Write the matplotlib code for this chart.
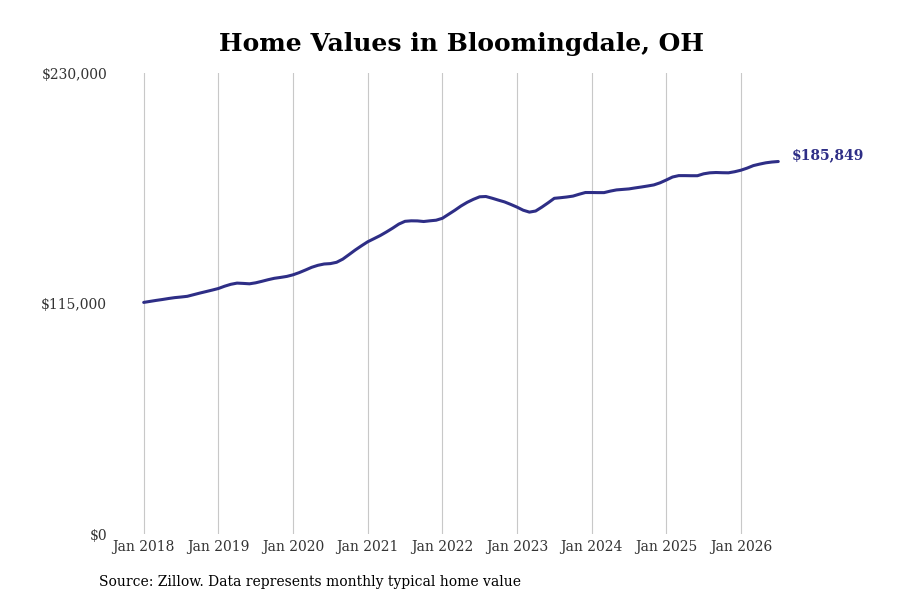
import matplotlib
matplotlib.use("Agg")
import matplotlib.pyplot as plt
import numpy as np

# monthly typical home value, Jan 2018 .. Jul 2026
values = [
    115550, 116050, 116550, 117000, 117500, 117940, 118240, 118590, 119390, 120190, 120940, 121690,
    122490, 123630, 124580, 125180, 125030, 124830, 125330, 126080, 126880, 127580, 128020, 128520,
    129320, 130420, 131710, 133060, 134060, 134710, 134910, 135560, 137150, 139400, 141690, 143790,
    145790, 147330, 148880, 150670, 152570, 154620, 156010, 156260, 156210, 155910, 156260, 156560,
    157510, 159500, 161500, 163650, 165490, 166990, 168240, 168390, 167540, 166590, 165690, 164440,
    163100, 161550, 160600, 161150, 163100, 165240, 167490, 167790, 168140, 168590, 169530, 170380,
    170380, 170330, 170330, 171080, 171680, 171930, 172180, 172680, 173130, 173630, 174170, 175220,
    176620, 178110, 178810, 178810, 178760, 178760, 179710, 180210, 180360, 180260, 180210, 180760,
    181510, 182560, 183810, 184550, 185200, 185600, 185849,
]
years = list(range(2018, 2027))
year_labels = [f"Jan {y}" for y in years]
y_ticks = [0, 115000, 230000]
y_labels = ["$0", "$115,000", "$230,000"]
last_label = "$185,849"

line_color = "#2e2e86"
months = np.arange(len(values))

fig = plt.figure(figsize=(9, 6), dpi=100)
ax = fig.add_axes([0.133, 0.11, 0.767, 0.7683])

ax.plot(months, values, color=line_color, lw=2.2, solid_capstyle="round")

ax.set_xlim(-3.86, 107.1)
ax.set_ylim(0, 230000)
ax.set_xticks([12 * i for i in range(len(years))])
ax.set_xticklabels(year_labels, family="DejaVu Serif", fontsize=10, color="#333333")
ax.set_yticks(y_ticks)
ax.set_yticklabels(y_labels, family="DejaVu Serif", fontsize=10, color="#333333")
ax.tick_params(axis="both", length=0)
ax.tick_params(axis="y", pad=9)
ax.tick_params(axis="x", pad=4)
ax.grid(axis="x", color="#c8c8c8", lw=0.8)
for s in ax.spines.values():
    s.set_visible(False)

ax.annotate(last_label, xy=(months[-1], values[-1]), xytext=(10, 4.5),
            textcoords="offset points", ha="left", va="center",
            family="DejaVu Serif", fontsize=10, fontweight="bold", color=line_color)

fig.text(0.513, 0.927, "Home Values in Bloomingdale, OH", ha="center", va="center",
         family="DejaVu Serif", fontsize=18, fontweight="bold", color="black")
fig.text(0.11, 0.03, "Source: Zillow. Data represents monthly typical home value",
         ha="left", va="center", family="DejaVu Serif", fontsize=10, color="black")

fig.savefig("out.png", dpi=100)
